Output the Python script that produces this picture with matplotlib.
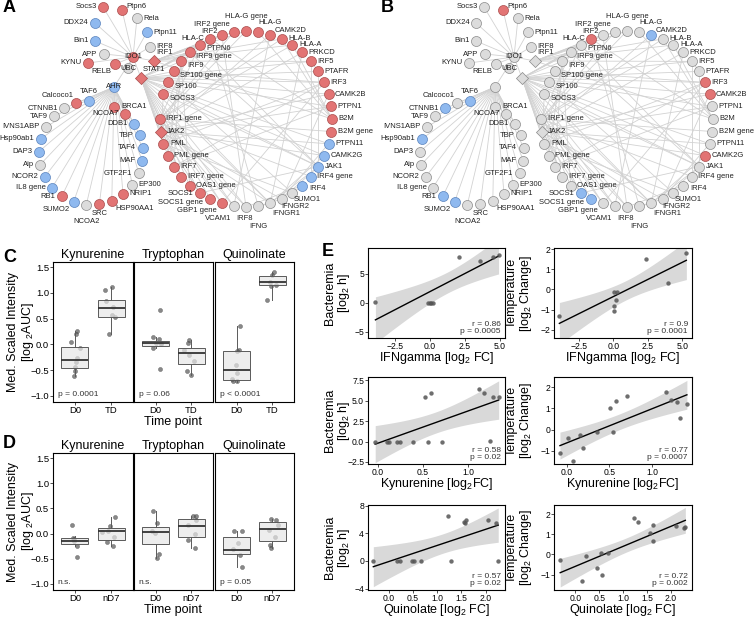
import numpy as np
import matplotlib
matplotlib.use('Agg')
import matplotlib.pyplot as plt

plt.rcParams['font.family'] = ['Liberation Sans', 'DejaVu Sans']
plt.rcParams['mathtext.fontset'] = 'custom'
plt.rcParams['mathtext.rm'] = 'Liberation Sans'
plt.rcParams['mathtext.it'] = 'Liberation Sans:italic'

W, H = 754, 618


''' Network (A, B) '''
top_nodes = ['Socs3', 'Ptpn6', 'Rela', 'DDX24', 'Ptpn11', 'Bin1', 'IRF8 ', 'APP',
             'KYNU', 'RELB', 'IDO1', 'UBC', 'AHR', 'IRF1', 'STAT1']
left_ring = ['TAF6', 'Calcoco1', 'CTNNB1', 'TAF9', 'IVNS1ABP', 'Hsp90ab1', 'DAP3', 'Aip',
             'NCOR2', 'IL8 gene', 'RB1', 'SUMO2', 'NCOA2', 'SRC', 'HSP90AA1', 'NRIP1',
             'EP300', 'GTF2F1', 'MAF', 'TAF4', 'TBP', 'DDB1', 'NCOA7', 'BRCA1']
right_ring = ['HLA-G gene', 'HLA-G', 'CAMK2D', 'HLA-B', 'HLA-A', 'PRKCD', 'IRF5', 'PTAFR',
              'IRF3', 'CAMK2B', 'PTPN1', 'B2M', 'B2M gene', 'PTPN11', 'CAMK2G', 'JAK1',
              'IRF4 gene', 'IRF4', 'SUMO1', 'IFNGR2', 'IFNGR1', 'IFNG', 'IRF8', 'VCAM1',
              'GBP1 gene', 'SOCS1 gene', 'SOCS1', 'OAS1 gene', 'IRF7 gene', 'IRF7', 'PML gene',
              'PML', 'JAK2', 'IRF1 gene', None, 'SOCS3', 'SP100', 'SP100 gene', 'IRF9',
              'IRF9 gene', 'PTPN6', 'HLA-C', 'IRF2', 'IRF2 gene']
diamonds = ['IRF1', 'STAT1', 'JAK2']

red_A = ['Socs3', 'Ptpn6', 'KYNU', 'RELB', 'IDO1', 'IRF1', 'STAT1', 'Calcoco1', 'RB1', 'SRC',
         'HSP90AA1', 'NRIP1', 'NCOA7', 'BRCA1', 'HLA-C', 'IRF2', 'IRF2 gene', 'HLA-G gene',
         'HLA-G', 'CAMK2D', 'HLA-B', 'HLA-A', 'PRKCD', 'IRF5', 'PTAFR', 'IRF3', 'CAMK2B',
         'PTPN1', 'B2M', 'B2M gene', 'GBP1 gene', 'SOCS1 gene', 'SOCS1', 'OAS1 gene',
         'IRF7 gene', 'IRF7', 'PML gene', 'PML', 'JAK2', 'IRF1 gene', 'SOCS3', 'SP100',
         'SP100 gene', 'IRF9', 'IRF9 gene', 'PTPN6']
blue_A = ['DDX24', 'Ptpn11', 'Bin1', 'AHR', 'TAF6', 'Hsp90ab1', 'DAP3', 'NCOR2', 'IL8 gene',
          'SUMO2', 'MAF', 'TAF4', 'TBP', 'DDB1', 'PTPN11', 'CAMK2G', 'JAK1', 'IRF4 gene', 'IRF4']
red_B = ['Ptpn6', 'HLA-C', 'IRF3', 'CAMK2B', 'CAMK2G']
blue_B = ['TAF6', 'CTNNB1', 'Hsp90ab1', 'RB1', 'SUMO2', 'CAMK2D', 'SOCS1', 'SOCS1 gene']

stat1_targets = ['IRF1 gene', 'JAK2', 'PML', 'PML gene', 'IRF7', 'IRF7 gene', 'OAS1 gene',
                 'SOCS1', 'SOCS1 gene', 'GBP1 gene', 'VCAM1', 'IRF8', 'SOCS3', 'SP100',
                 'SP100 gene', 'IRF9', 'IRF9 gene', 'PTPN6', 'HLA-C', 'IRF2', 'PTAFR', 'IRF3',
                 'CAMK2B', 'PTPN1', 'JAK1', 'IFNGR1', 'CAMK2G', 'PTPN11', 'IRF5']
irf1_targets = ['HLA-C', 'IRF2', 'IRF2 gene', 'PTPN6', 'HLA-G gene', 'HLA-B', 'HLA-A', 'IRF5',
                'B2M', 'IRF9 gene']
ido1_targets = ['Socs3', 'Ptpn6', 'Rela', 'Ptpn11', 'IRF8 ', 'DDX24', 'Bin1', 'APP', 'KYNU',
                'RELB', 'UBC', 'AHR', 'STAT1', 'IRF1']
chords = [('JAK2', 'IFNGR1'), ('JAK2', 'IFNGR2'), ('JAK1', 'IFNGR1'), ('JAK1', 'IFNGR2'),
          ('IFNG', 'IFNGR1'), ('IFNG', 'IFNGR2'), ('JAK2', 'SOCS1'), ('JAK2', 'SOCS3'),
          ('JAK1', 'SOCS1'), ('JAK1', 'SOCS3'), ('JAK2', 'PTPN11'), ('JAK2', 'PTPN1'),
          ('JAK1', 'PTPN6'), ('JAK2', 'PTPN6'), ('JAK2', 'PRKCD'), ('JAK2', 'CAMK2B'),
          ('JAK2', 'CAMK2G'), ('JAK2', 'CAMK2D'), ('IRF1 gene', 'HLA-A'), ('IRF1 gene', 'HLA-B'),
          ('IRF1 gene', 'B2M gene'), ('IRF1 gene', 'HLA-G gene'), ('IRF1 gene', 'IRF2 gene'),
          ('IRF1 gene', 'IRF7 gene'), ('IRF1 gene', 'IRF9 gene'), ('PML', 'SUMO1'),
          ('SP100', 'SUMO1'), ('IRF4', 'SUMO1'), ('IRF4', 'IRF8'), ('IRF8', 'IRF1 gene'),
          ('IRF5', 'PTAFR'), ('IRF3', 'PML'), ('IRF3', 'IRF7'), ('IRF7', 'IRF9'),
          ('B2M', 'HLA-A'), ('B2M', 'HLA-B'), ('B2M', 'HLA-C'), ('B2M', 'HLA-G'),
          ('VCAM1', 'IRF1 gene'), ('GBP1 gene', 'IRF1 gene'), ('IRF4 gene', 'IRF1 gene'),
          ('CAMK2G', 'IFNGR1'), ('PTPN11', 'IFNGR2'), ('PRKCD', 'IFNGR1'), ('CAMK2B', 'IFNGR2'),
          ('PTAFR', 'JAK1'), ('IRF5', 'IRF4 gene'), ('OAS1 gene', 'IRF9'), ('PML gene', 'IRF9'),
          ('SOCS3', 'IFNGR1'), ('SP100 gene', 'IRF3'), ('IRF9 gene', 'JAK1'), ('HLA-C', 'IFNG'),
          ('IRF2', 'IRF8'), ('CAMK2D', 'VCAM1'), ('PTPN1', 'IRF7'), ('IRF3', 'GBP1 gene')]

# layout of the diagram (pixel frame of one panel)
top_pos = {'Socs3': (103, 7), 'Ptpn6': (122, 10), 'Rela': (137, 18), 'DDX24': (95, 23),
           'Ptpn11': (147, 32), 'Bin1': (95, 41), 'IRF8 ': (150, 47), 'APP': (104, 54),
           'KYNU': (88, 63), 'RELB': (115, 64), 'IDO1': (133, 57), 'UBC': (128, 68),
           'AHR': (114, 87), 'IRF1': (154, 61), 'STAT1': (141, 78)}
side = {'Socs3': 'l', 'Ptpn6': 'ru', 'Rela': 'r', 'DDX24': 'l', 'Ptpn11': 'r', 'Bin1': 'l',
        'IRF8 ': 'r', 'APP': 'l', 'KYNU': 'l', 'RELB': 'bl', 'IDO1': 'c', 'UBC': 'c', 'AHR': 'c',
        'IRF1': 'ar', 'STAT1': 'ar',
        'TAF6': 'a', 'Calcoco1': 'al', 'SUMO2': 'bl', 'NCOA2': 'bb', 'SRC': 'b',
        'HSP90AA1': 'br', 'NRIP1': 'r', 'EP300': 'r', 'BRCA1': 'r',
        'HLA-G gene': 'aa', 'HLA-G': 'ag', 'CAMK2D': 'ru', 'IRF4': 'rd', 'SUMO1': 'b1',
        'IFNGR2': 'b2', 'IFNGR1': 'b3', 'IFNG': 'b4', 'IRF8': 'b5', 'VCAM1': 'b6',
        'GBP1 gene': 'b7', 'SOCS1 gene': 'b8', 'SOCS1': 'l', 'HLA-C': 'l', 'IRF2': 'lu',
        'IRF2 gene': 'lu2', 'SOCS3': 'rb', 'SP100': 'rb', 'SP100 gene': 'rb', 'IRF9': 'rb',
        'IRF9 gene': 'rb', 'PTPN6': 'rb'}
offsets = {'r': (6.5, 0, 'left', 'center'), 'l': (-6.5, 0, 'right', 'center'),
           'rb': (6.5, 4, 'left', 'center'), 'ru': (4, -4, 'left', 'center'),
           'rd': (6.5, 2.5, 'left', 'center'),
           'lu': (-4, -3, 'right', 'center'), 'lu2': (-4, -7, 'right', 'center'),
           'a': (0, -6, 'center', 'bottom'), 'aa': (0, -14, 'center', 'center'),
           'ag': (0, -9, 'left', 'center'),
           'b': (0, 5.5, 'center', 'top'), 'bb': (0, 13, 'center', 'top'),
           'b1': (1, 6.5, 'left', 'center'), 'b2': (0, 7.5, 'left', 'center'),
           'b3': (2, 10.5, 'left', 'center'), 'b4': (0, 20, 'center', 'center'),
           'b5': (-1.5, 11, 'center', 'center'), 'b6': (-2, 12, 'right', 'center'),
           'b7': (-5, 7.5, 'right', 'center'), 'b8': (-7, 3.5, 'right', 'center'),
           'ar': (2, -5, 'left', 'bottom'), 'al': (-3, -4, 'right', 'bottom'),
           'br': (4, 4, 'left', 'top'), 'bl': (-4, 4, 'right', 'top'),
           'c': (0, 0, 'center', 'center')}


def node_positions():
    pos = dict(top_pos)
    n = len(right_ring)
    for i, name in enumerate(right_ring):
        if name is None:
            continue
        th = np.radians(90 - i * 360 / n)
        pos[name] = (246 + 86 * np.cos(th), 119 - 88 * np.sin(th))
        if name not in side:
            side[name] = 'r'
    n = len(left_ring) + 1
    for i, name in enumerate(left_ring):
        th = np.radians(92 + i * 360 / n)
        pos[name] = (91 + 52 * np.cos(th), 153 - 52 * np.sin(th))
        if name not in side:
            side[name] = 'l'
    return pos


def draw_network(ax, reds, blues, hide_labels=()):
    pos = node_positions()
    edges = [('AHR', n) for n in left_ring] + [('STAT1', n) for n in stat1_targets] \
        + [('IRF1', n) for n in irf1_targets] + [('IDO1', n) for n in ido1_targets] + chords
    for a, b in edges:
        ax.plot([pos[a][0], pos[b][0]], [pos[a][1], pos[b][1]], color='#d2d2d2', lw=0.6, zorder=1)
    for name, (x, y) in pos.items():
        if name in reds:
            fc, ec = '#e27474', '#a94d4d'
        elif name in blues:
            fc, ec = '#8fb9ef', '#5a83bd'
        else:
            fc, ec = '#dcdcdc', '#8a8a8a'
        if name in diamonds:
            ax.scatter(x, y, s=38, marker='D', c=fc, edgecolors=ec, linewidths=0.5, zorder=3)
        else:
            ax.scatter(x, y, s=52, c=fc, edgecolors=ec, linewidths=0.5, zorder=3)
        if name in hide_labels:
            continue
        dx, dy, ha, va = offsets[side[name]]
        ax.text(x + dx, y + dy, name.strip(), fontsize=5.5, ha=ha, va=va, color='#222222', zorder=4)
    ax.set_ylim(232, 0)
    ax.axis('off')


def rect(x0, y0, x1, y1):
    return [x0 / W, 1 - y1 / H, (x1 - x0) / W, (y1 - y0) / H]


fig = plt.figure(figsize=(W / 100, H / 100), dpi=100)

axA = fig.add_axes(rect(0, 0, 377, 232))
draw_network(axA, red_A, blue_A)
axA.set_xlim(0, 377)
axB = fig.add_axes(rect(377, 0, 754, 232))
draw_network(axB, red_B, blue_B, hide_labels=('AHR', 'STAT1'))
axB.set_xlim(-4, 373)


''' Box plots (C, D) '''
metabolites = ['Kynurenine', 'Tryptophan', 'Quinolinate']
# (whislo, q1, median, q3, whishi)
c_stats = {'Kynurenine': [(-0.62, -0.46, -0.30, -0.05, 0.25), (0.21, 0.54, 0.71, 0.86, 1.12)],
           'Tryptophan': [(-0.08, -0.04, 0.02, 0.07, 0.15), (-0.59, -0.38, -0.16, -0.065, 0.08)],
           'Quinolinate': [(-0.74, -0.70, -0.49, -0.13, 0.36), (0.86, 1.15, 1.21, 1.33, 1.40)]}
c_pts = {'Kynurenine': [[0.25, 0.21, 0.05, -0.08, -0.27, -0.34, -0.44, -0.51, -0.62],
                        [1.12, 1.06, 0.85, 0.72, 0.58, 0.53, 0.21]],
         'Tryptophan': [[0.67, 0.15, 0.10, 0.03, 0.02, 0.01, -0.08, -0.47],
                        [0.08, 0.03, -0.10, -0.20, -0.33, -0.51, -0.59]],
         'Quinolinate': [[0.36, -0.11, -0.13, -0.40, -0.55, -0.68, -0.72, -0.72],
                         [1.40, 1.35, 1.22, 1.15, 1.14, 0.86]]}
c_jit = {'Kynurenine': [[0.07, 0.03, -0.11, 0.14, 0.07, 0.03, 0.0, 0.0, -0.03],
                        [0.03, -0.17, -0.14, 0.05, 0.02, 0.11, -0.06]],
         'Tryptophan': [[0.13, -0.06, 0.09, 0.02, 0.16, 0.14, -0.06, 0.13],
                        [-0.07, -0.1, -0.21, -0.06, 0.06, -0.12, 0.0]],
         'Quinolinate': [[0.11, 0.07, 0.02, -0.02, 0.02, -0.14, -0.09, 0.0],
                         [0.05, 0.0, -0.08, 0.1, -0.05, -0.14]]}
c_p = ['p = 0.0001', 'p = 0.06', 'p < 0.0001']
c_groups = ['D0', 'TD']

d_stats = {'Kynurenine': [(-0.24, -0.20, -0.14, -0.085, -0.05), (-0.24, -0.12, 0.06, 0.11, 0.32)],
           'Tryptophan': [(-0.49, -0.20, 0.03, 0.125, 0.45), (-0.28, -0.07, 0.145, 0.29, 0.34)],
           'Quinolinate': [(-0.66, -0.415, -0.32, -0.07, 0.06), (-0.28, -0.14, 0.10, 0.23, 0.29)]}
d_pts = {'Kynurenine': [[0.18, -0.09, -0.10, -0.14, -0.24, -0.47],
                        [0.32, 0.16, 0.06, 0.03, -0.07, -0.16, -0.24]],
         'Tryptophan': [[0.45, 0.22, 0.05, 0.01, -0.41, -0.49],
                        [0.34, 0.34, 0.26, 0.18, 0.0, -0.12, -0.28]],
         'Quinolinate': [[0.06, 0.05, -0.18, -0.31, -0.43, -0.66],
                         [0.29, 0.26, 0.18, 0.08, -0.07, -0.22, -0.28]]}
d_jit = {'Kynurenine': [[-0.09, -0.05, -0.01, -0.03, 0.06, 0.05],
                        [0.11, -0.03, -0.1, -0.24, 0.08, -0.12, 0.04]],
         'Tryptophan': [[-0.08, 0.03, -0.09, -0.02, 0.1, 0.03],
                        [0.05, 0.12, 0.14, -0.09, 0.09, -0.09, 0.09]],
         'Quinolinate': [[-0.06, 0.14, 0.05, -0.09, 0.09, 0.14],
                         [-0.03, 0.11, 0.16, -0.09, 0.06, -0.07, -0.03]]}
d_p = ['n.s.', 'n.s.', 'p = 0.05']
d_groups = ['D0', 'nD7']


def box_panel(y0, y1, stats, pts, jit, ptexts, groups):
    xs = [(53, 133), (134, 213), (215, 294)]
    for k, met in enumerate(metabolites):
        ax = fig.add_axes(rect(xs[k][0], y0, xs[k][1], y1))
        for g in range(2):
            ax.scatter(g + 1 + np.array(jit[met][g]), pts[met][g], s=9, color='#4a4a4a',
                       alpha=0.65, linewidths=0.3, edgecolors='#333333', zorder=2)
        bs = [dict(whislo=s[0], q1=s[1], med=s[2], q3=s[3], whishi=s[4], fliers=[])
              for s in stats[met]]
        ax.bxp(bs, positions=[1, 2], widths=0.75, patch_artist=True, showcaps=False,
               showfliers=False, zorder=3,
               boxprops=dict(facecolor=(0.9, 0.9, 0.9, 0.7), edgecolor='#5a5a5a', lw=0.7),
               whiskerprops=dict(color='#5a5a5a', lw=0.7),
               medianprops=dict(color='#333333', lw=1.3))
        ax.set_xlim(0.4, 2.6)
        ax.set_ylim(-1.12, 1.6)
        ax.set_xticks([1, 2])
        ax.set_xticklabels(groups)
        ax.set_yticks([-1.0, -0.5, 0.0, 0.5, 1.0, 1.5])
        ax.tick_params(length=2, width=0.6, pad=0.8, color='#333333', labelsize=6.8)
        if k > 0:
            ax.tick_params(axis='y', left=False, labelleft=False)
        for sp in ax.spines.values():
            sp.set_linewidth(0.8)
        ax.set_title(met, fontsize=9, pad=3)
        ax.text(0.06, 0.03, ptexts[k], transform=ax.transAxes, fontsize=6, color='#333333',
                ha='left', va='bottom')
    fig.text(173 / W, 1 - (y1 + 20.5) / H, 'Time point', fontsize=9, ha='center', va='center')
    yc = 1 - (y0 + y1) / 2 / H
    fig.text(13 / W, yc, 'Med. Scaled Intensity', rotation=90, fontsize=9, ha='center', va='center')
    fig.text(28 / W, yc, r'[log $_2$AUC]', rotation=90, fontsize=9, ha='center', va='center')


box_panel(262, 402, c_stats, c_pts, c_jit, c_p, c_groups)
box_panel(453, 590, d_stats, d_pts, d_jit, d_p, d_groups)


''' Correlations (E) '''
ifn_bact_x = [-3.9, -0.15, 0.0, 0.1, 0.2, 2.1, 3.6, 4.5, 4.9]
ifn_bact_y = [0.1, 0.0, 0.0, 0.0, 0.0, 7.9, 7.1, 7.9, 8.2]
ifn_temp_x = [-3.9, 0.05, 0.05, 0.2, 0.05, 0.3, 2.4, 4.0, 5.3]
ifn_temp_y = [-1.3, -0.8, -1.05, -0.5, -0.15, -0.15, 1.5, 0.33, 1.8]
kyn_bact_x = [0.52, 0.59, 1.12, 1.18, 1.28, 1.34, 1.24, -0.03, 0.1, 0.12, 0.21, 0.24, 0.39, 0.56, 0.71]
kyn_bact_y = [5.4, 6.0, 6.4, 6.0, 5.4, 5.4, 0.1, 0.0, 0.0, 0.0, 0.0, 0.0, 0.0, 0.0, 0.0]
kyn_temp_x = [1.16, 1.22, 1.29, 1.41, 1.33, 0.71, 0.58, 0.51, 0.54, 0.35, 0.16, 0.02, 0.19, -0.08, 0.07]
kyn_temp_y = [1.76, 1.38, 1.29, 1.19, 0.57, 1.57, 1.33, 1.0, -0.1, -0.1, -0.24, -0.38, -0.86, -1.1, -1.48]
qui_bact_x = [1.22, 1.55, 1.6, 1.58, 2.05, 2.22, 2.26, 1.28, 0.66, 0.53, 0.47, 0.23, 0.17, -0.32]
qui_bact_y = [6.45, 5.6, 6.0, 5.5, 6.0, 5.45, 0.0, 0.0, 0.0, 0.0, 0.0, 0.0, 0.0, 0.0]
qui_temp_x = [1.22, 1.3, 1.62, 1.56, 1.62, 2.1, 2.27, 2.3, 0.22, 0.53, 0.68, 0.45, 0.55, 0.14, -0.32]
qui_temp_y = [1.8, 1.6, 1.45, 1.05, 0.65, 1.4, 1.3, 1.35, -0.1, 0.05, 0.05, -0.7, -1.0, -1.3, -0.3]
stats_text = ['r = 0.86\np = 0.0005', 'r = 0.9\np = 0.0001', 'r = 0.58\np = 0.02',
              'r = 0.77\np = 0.0007', 'r = 0.57\np = 0.02', 'r = 0.72\np = 0.002']
xlabels = [r'IFNgamma [log$_2$ FC]', r'Kynurenine [log$_2$FC]', r'Quinolate [log$_2$ FC]']
ylabels = ['Bacteremia\n[log$_2$ h]', 'Temperature\n[log$_2$ Change]']

e_data = [(ifn_bact_x, ifn_bact_y), (ifn_temp_x, ifn_temp_y), (kyn_bact_x, kyn_bact_y),
          (kyn_temp_x, kyn_temp_y), (qui_bact_x, qui_bact_y), (qui_temp_x, qui_temp_y)]
e_xlim = [(-4.43, 5.36), (-4.29, 5.71), (-0.11, 1.41), (-0.15, 1.47), (-0.43, 2.4), (-0.45, 2.44)]
e_ylim = [(-6.1, 9.4), (-2.42, 2.07), (-2.75, 7.9), (-1.62, 2.48), (-4.2, 8.1), (-1.77, 2.46)]
e_xticks = [[-2.5, 0, 2.5, 5], [-2.5, 0, 2.5, 5], [0, 0.5, 1.0], [0, 0.5, 1.0],
            [0, 0.5, 1.0, 1.5, 2.0], [0, 0.5, 1.0, 1.5, 2.0]]
e_yticks = [[-5, 0, 5], [-2, -1, 0, 1, 2], [-2.5, 0, 2.5, 5, 7.5], [-1, 0, 1, 2],
            [-4, 0, 4, 8], [-1, 0, 1, 2]]


def t975(df):
    z = 1.959964
    return (z + (z ** 3 + z) / (4 * df) + (5 * z ** 5 + 16 * z ** 3 + 3 * z) / (96 * df ** 2)
            + (3 * z ** 7 + 19 * z ** 5 + 17 * z ** 3 - 15 * z) / (384 * df ** 3))


cols = [(368, 505), (554, 692)]
rows = [(248, 338), (377, 464), (505, 590)]
xlab_dy = [19.5, 19.5, 19.5]
ylab_x = [338, 520]
for i, (x, y) in enumerate(e_data):
    r, c = divmod(i, 2)
    x0, x1 = cols[c]
    y0, y1 = rows[r]
    ax = fig.add_axes(rect(x0, y0, x1, y1))
    x = np.array(x)
    y = np.array(y)
    b, a = np.polyfit(x, y, 1)
    n = len(x)
    s = np.sqrt(np.sum((y - (a + b * x)) ** 2) / (n - 2))
    xs = np.linspace(x.min(), x.max(), 100)
    se = s * np.sqrt(1 / n + (xs - x.mean()) ** 2 / np.sum((x - x.mean()) ** 2))
    yh = a + b * xs
    ax.fill_between(xs, yh - t975(n - 2) * se, yh + t975(n - 2) * se, color='#d9d9d9', lw=0, zorder=1)
    ax.plot(xs, yh, color='black', lw=1.0, zorder=2)
    ax.scatter(x, y, s=10, color='#555555', alpha=0.85, linewidths=0, zorder=3)
    ax.set_xlim(*e_xlim[i])
    ax.set_ylim(*e_ylim[i])
    ax.set_xticks(e_xticks[i])
    ax.set_yticks(e_yticks[i])
    ax.tick_params(length=2, width=0.6, pad=0.8, labelsize=6.2, color='#333333')
    for sp in ax.spines.values():
        sp.set_linewidth(0.8)
    ax.text(0.97, 0.03, stats_text[i], transform=ax.transAxes, fontsize=6, ha='right',
            va='bottom', linespacing=1.0, color='#333333')
    ax.set_xlabel(xlabels[r], fontsize=9, va='center')
    ax.xaxis.set_label_coords(0.5, -xlab_dy[r] / (y1 - y0))
    ax.set_ylabel(ylabels[c], fontsize=9, linespacing=1.0, va='center')
    ax.yaxis.set_label_coords((ylab_x[c] - x0) / (x1 - x0), 0.5)


''' Panel letters '''
for lbl, (px, py) in zip('ABCDE', [(3, 8), (381, 8), (3, 258), (3, 443), (322, 252)]):
    fig.text(px / W, 1 - py / H, lbl, fontsize=13, fontweight='bold', ha='left', va='center')

fig.savefig('out.png', dpi=100)
